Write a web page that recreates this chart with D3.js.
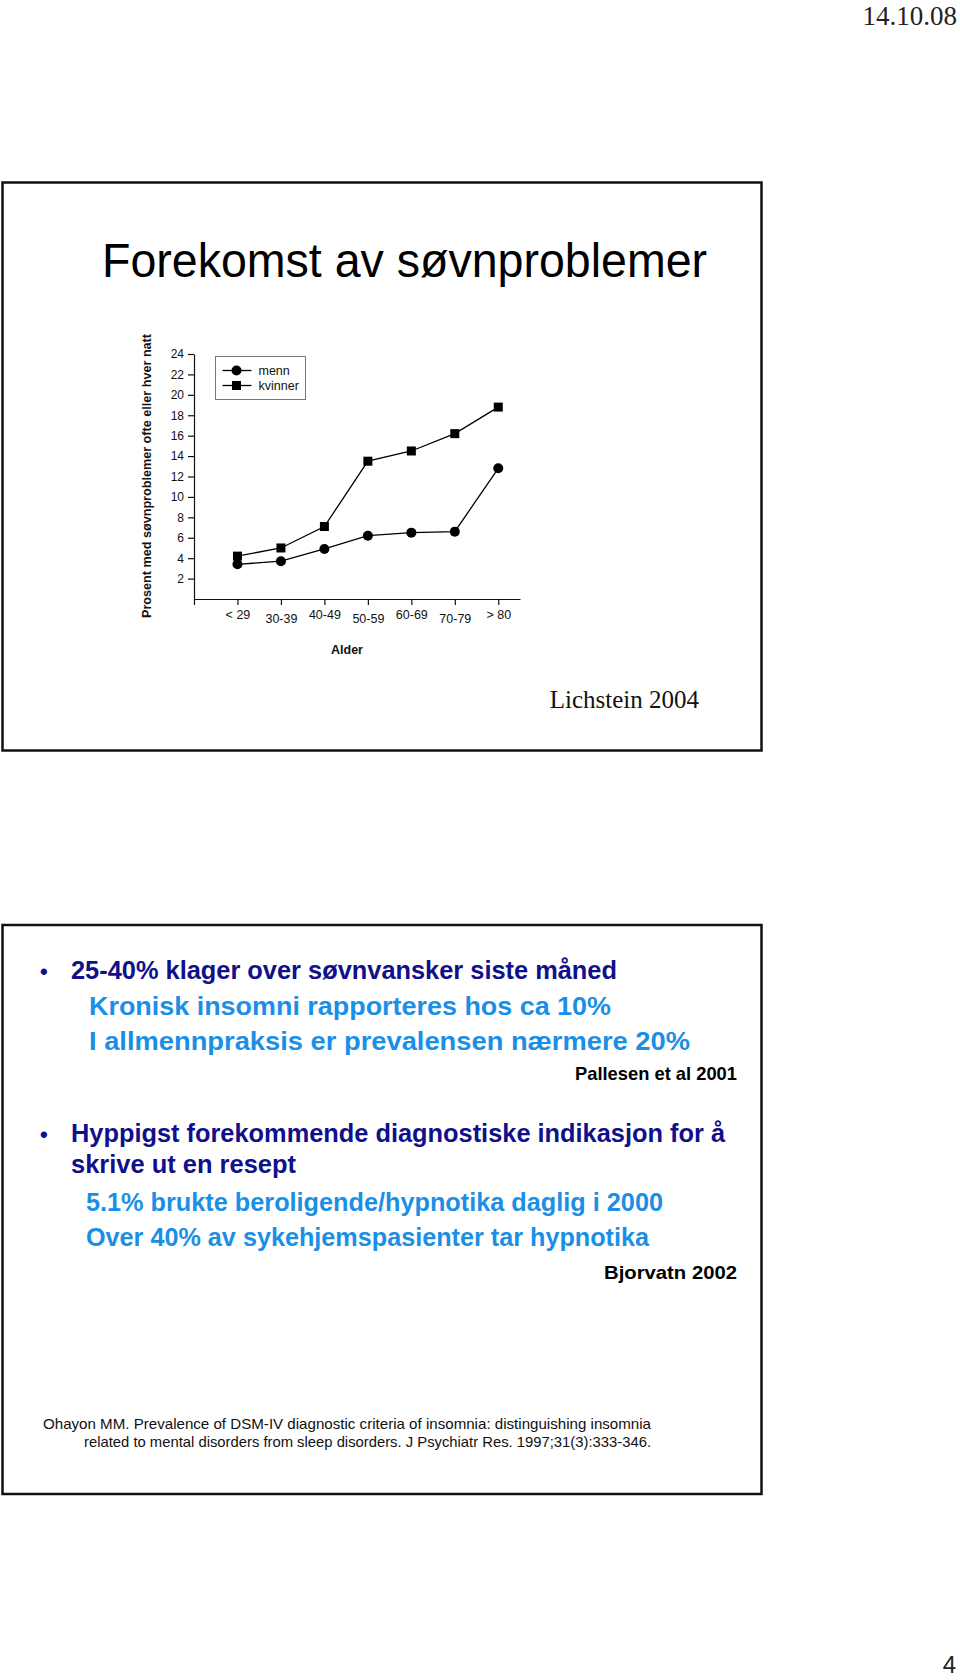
<!DOCTYPE html>
<html>
<head>
<meta charset="utf-8">
<script src="https://cdn.jsdelivr.net/npm/d3@7"></script>
<style>
  html, body { margin: 0; padding: 0; background: #fff; }
  svg { display: block; }
</style>
</head>
<body>
<script>
// ---------- data ----------
const categories = ["< 29", "30-39", "40-49", "50-59", "60-69", "70-79", "> 80"];
const menn =    [3.4, 3.7, 4.9, 6.2, 6.5, 6.6, 12.8];
const kvinner = [4.2, 5.0, 7.1, 13.5, 14.5, 16.2, 18.8];
const yTicks = [2, 4, 6, 8, 10, 12, 14, 16, 18, 20, 22, 24];
const seriesNames = ["menn", "kvinner"];
const title = "Forekomst av søvnproblemer";
const yLabel = "Prosent med søvnproblemer ofte eller hver natt";
const xLabel = "Alder";
const source1 = "Lichstein 2004";
const dateText = "14.10.08";
const pageNo = "4";
const bullet1 = "25-40% klager over søvnvansker siste måned";
const sub1 = ["Kronisk insomni rapporteres hos ca 10%", "I allmennpraksis er prevalensen nærmere 20%"];
const ref1 = "Pallesen et al 2001";
const bullet2 = ["Hyppigst forekommende diagnostiske indikasjon for å", "skrive ut en resept"];
const sub2 = ["5.1% brukte beroligende/hypnotika daglig i 2000", "Over 40% av sykehjemspasienter tar hypnotika"];
const ref2 = "Bjorvatn 2002";
const citation = ["Ohayon MM. Prevalence of DSM-IV diagnostic criteria of insomnia: distinguishing insomnia",
                  "related to mental disorders from sleep disorders. J Psychiatr Res. 1997;31(3):333-346."];

// ---------- page ----------
const W = 960, H = 1680;
const svg = d3.select("body").append("svg").attr("width", W).attr("height", H);
svg.append("rect").attr("width", W).attr("height", H).attr("fill", "#fff");

const sans = "'Liberation Sans', Arial, Helvetica, sans-serif";
const serif = "'Liberation Serif', 'Times New Roman', serif";
const navy = "#10108a";
const blue = "#1b8fe6";

// date & page number
svg.append("text").attr("x", 957).attr("y", 25).attr("text-anchor", "end")
  .attr("font-family", serif).attr("font-size", 27).attr("fill", "#222").text(dateText);
svg.append("text").attr("x", 956).attr("y", 1673).attr("text-anchor", "end")
  .attr("font-family", sans).attr("font-size", 24).attr("fill", "#222").text(pageNo);

// frames
svg.append("rect").attr("x", 2.5).attr("y", 182.5).attr("width", 759).attr("height", 568)
  .attr("fill", "none").attr("stroke", "#111").attr("stroke-width", 2.5);
svg.append("rect").attr("x", 2.5).attr("y", 925).attr("width", 759).attr("height", 569)
  .attr("fill", "none").attr("stroke", "#111").attr("stroke-width", 2.5);

// title
svg.append("text").attr("x", 102).attr("y", 277)
  .attr("font-family", sans).attr("font-size", 48).attr("fill", "#000")
  .attr("textLength", 605).attr("lengthAdjust", "spacingAndGlyphs").text(title);

// ---------- chart ----------
const x = d3.scaleLinear().domain([-1, 6.5]).range([194, 520]);
const y = d3.scaleLinear().domain([0, 24]).range([599, 354]);
const g = svg.append("g");

// y axis
const yAxis = g.append("g").attr("transform", `translate(${x(-1)},0)`)
  .call(d3.axisLeft(y).tickValues(yTicks).tickSize(6).tickSizeOuter(0).tickPadding(4));
yAxis.selectAll("text").attr("font-family", sans).attr("font-size", 12).attr("fill", "#111");
yAxis.selectAll("line, path").attr("stroke", "#111").attr("stroke-width", 1.2);

// x axis
const xAxis = g.append("g").attr("transform", `translate(0,${y(0)})`)
  .call(d3.axisBottom(x).tickValues(d3.range(-1, categories.length))
    .tickFormat(i => i < 0 ? "" : categories[i]).tickSize(6).tickSizeOuter(0).tickPadding(5));
xAxis.selectAll("text").attr("font-family", sans).attr("font-size", 12.5).attr("fill", "#111")
  .attr("dy", (d) => (d >= 0 && d % 2 === 1) ? "1.05em" : "0.71em");
xAxis.selectAll("line, path").attr("stroke", "#111").attr("stroke-width", 1.2);

// axis titles
g.append("text").attr("transform", `translate(151,476) rotate(-90)`).attr("text-anchor", "middle")
  .attr("font-family", sans).attr("font-weight", "bold").attr("font-size", 12).attr("fill", "#111")
  .attr("textLength", 284).attr("lengthAdjust", "spacingAndGlyphs").text(yLabel);
g.append("text").attr("x", 347).attr("y", 654).attr("text-anchor", "middle")
  .attr("font-family", sans).attr("font-weight", "bold").attr("font-size", 12.5).attr("fill", "#111").text(xLabel);

// lines
const line = d3.line().x((d, i) => x(i)).y(d => y(d));
[menn, kvinner].forEach(s => {
  g.append("path").datum(s).attr("d", line).attr("fill", "none")
    .attr("stroke", "#000").attr("stroke-width", 1.3);
});
// markers
g.selectAll("circle.m").data(menn).join("circle").attr("class", "m")
  .attr("cx", (d, i) => x(i)).attr("cy", d => y(d)).attr("r", 5).attr("fill", "#000");
const sq = 9;
g.selectAll("rect.k").data(kvinner).join("rect").attr("class", "k")
  .attr("x", (d, i) => x(i) - sq / 2).attr("y", d => y(d) - sq / 2)
  .attr("width", sq).attr("height", sq).attr("fill", "#000");

// legend
const lg = g.append("g").attr("transform", "translate(215.5,356.5)");
lg.append("rect").attr("width", 90).attr("height", 43).attr("fill", "#fff")
  .attr("stroke", "#777").attr("stroke-width", 1);
seriesNames.forEach((name, i) => {
  const ly = 14 + i * 15;
  lg.append("line").attr("x1", 7).attr("x2", 36).attr("y1", ly).attr("y2", ly)
    .attr("stroke", "#000").attr("stroke-width", 1.3);
  if (i === 0) lg.append("circle").attr("cx", 21).attr("cy", ly).attr("r", 5).attr("fill", "#000");
  else lg.append("rect").attr("x", 21 - sq / 2).attr("y", ly - sq / 2).attr("width", sq).attr("height", sq).attr("fill", "#000");
  lg.append("text").attr("x", 43).attr("y", ly).attr("dy", "0.35em")
    .attr("font-family", sans).attr("font-size", 12.5).attr("fill", "#111").text(name);
});

// source
svg.append("text").attr("x", 699).attr("y", 708).attr("text-anchor", "end")
  .attr("font-family", serif).attr("font-size", 25).attr("fill", "#111").text(source1);

// ---------- text slide ----------
function txt(str, xx, yy, opts) {
  const t = svg.append("text").attr("x", xx).attr("y", yy)
    .attr("font-family", sans).attr("font-size", opts.size)
    .attr("font-weight", opts.weight || "bold").attr("fill", opts.fill || "#000")
    .attr("text-anchor", opts.anchor || "start").text(str);
  if (opts.len) t.attr("textLength", opts.len).attr("lengthAdjust", "spacingAndGlyphs");
  return t;
}
txt("•", 40, 979, {size: 22, fill: navy});
txt(bullet1, 71, 979, {size: 26, fill: navy, len: 546});
txt(sub1[0], 89, 1015, {size: 26, fill: blue, len: 522});
txt(sub1[1], 89, 1050, {size: 26, fill: blue, len: 601});
txt(ref1, 737, 1080, {size: 19, fill: "#000", anchor: "end", len: 162});

txt("•", 40, 1142, {size: 22, fill: navy});
txt(bullet2[0], 71, 1142, {size: 26, fill: navy, len: 654});
txt(bullet2[1], 71, 1173, {size: 26, fill: navy, len: 225});
txt(sub2[0], 86, 1211, {size: 26, fill: blue, len: 577});
txt(sub2[1], 86, 1246, {size: 26, fill: blue, len: 563});
txt(ref2, 737, 1279, {size: 19, fill: "#000", anchor: "end", len: 133});

txt(citation[0], 43, 1429, {size: 15, weight: "normal", fill: "#111", len: 608});
txt(citation[1], 84, 1447, {size: 15, weight: "normal", fill: "#111", len: 567});
</script>
</body>
</html>
